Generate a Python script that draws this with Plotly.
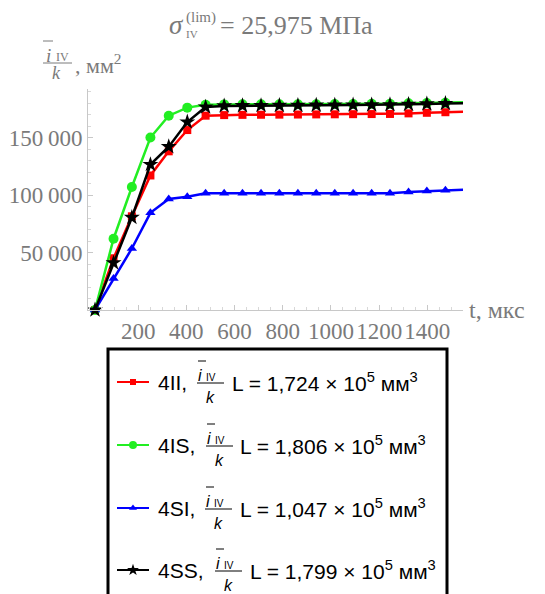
import plotly.graph_objects as go

# ---------------- data ----------------
t_us = [21, 98, 174, 251, 327, 404, 480, 557, 633, 710, 786, 863, 939, 1016,
        1092, 1169, 1245, 1322, 1398, 1475, 1551]

s_4II = [0, 45000, 81500, 117000, 138000, 156500, 169000, 169500, 169700, 169800,
         169900, 170000, 170100, 170200, 170300, 170400, 170500, 171000, 171500,
         172000, 172400]
s_4IS = [0, 62000, 107000, 150000, 169000, 176000, 178500, 178800, 178900, 179000,
         179000, 179000, 179000, 179100, 179200, 179300, 179400, 179700, 180000,
         180300, 180600]
s_4SI = [0, 27500, 53500, 84500, 96500, 98500, 101500, 101500, 101500, 101500,
         101500, 101500, 101500, 101500, 101500, 101500, 101600, 102600, 103400,
         104100, 104700]
s_4SS = [0, 41000, 80500, 126500, 142000, 163500, 176500, 177500, 177700, 177800,
         177900, 178000, 178100, 178200, 178300, 178400, 178500, 178800, 179200,
         179600, 179900]

series_names = ["4II", "4IS", "4SI", "4SS"]
L_values = ["1,724", "1,806", "1,047", "1,799"]

x_tick_vals = [200, 400, 600, 800, 1000, 1200, 1400]
x_tick_text = ["200", "400", "600", "800", "1000", "1200", "1400"]
y_tick_vals = [50000, 100000, 150000]
y_tick_text = ["50\u2009000", "100\u2009000", "150\u2009000"]

# ---------------- style ----------------
W, H = 545, 594
colors = ["#ff0000", "#22ee22", "#0000ff", "#000000"]
symbols = ["square", "circle", "triangle-up", "star"]
msizes = [8, 10, 9, 12]
gray = "#7a7a7a"
serif = "Liberation Serif, Times New Roman, serif"
sans = "Liberation Sans, Arial, sans-serif"

fig = go.Figure()

all_series = [s_4II, s_4IS, s_4SI, s_4SS]
for name, ys, c, sym, ms in zip(series_names, all_series, colors, symbols, msizes):
    fig.add_trace(go.Scatter(
        x=t_us, y=ys, mode="lines+markers", name=name,
        line=dict(color=c, width=2.5),
        marker=dict(symbol=sym, size=ms, color=c, line=dict(width=0)),
        cliponaxis=False, showlegend=False, xaxis="x", yaxis="y"))

# legend samples drawn in a pixel-space overlay axis
leg_rows = [382, 445, 508, 570]
for i in range(4):
    fig.add_trace(go.Scatter(
        x=[117, 133, 149], y=[leg_rows[i]] * 3, mode="lines",
        line=dict(color=colors[i], width=2), showlegend=False,
        xaxis="x2", yaxis="y2", hoverinfo="skip"))
    fig.add_trace(go.Scatter(
        x=[133], y=[leg_rows[i]], mode="markers",
        marker=dict(symbol=symbols[i], size=[6, 8, 7, 9][i], color=colors[i]),
        showlegend=False, xaxis="x2", yaxis="y2", hoverinfo="skip"))

ax_left, ax_right, ax_bottom, ax_top = 88, 463, 310, 89

fig.update_layout(
    width=W, height=H,
    margin=dict(l=0, r=0, t=0, b=0),
    paper_bgcolor="white", plot_bgcolor="rgba(0,0,0,0)",
    xaxis=dict(domain=[ax_left / W, ax_right / W], range=[-8, 1548],
               showgrid=False, zeroline=False, showline=True,
               linecolor="#c8c8c8", linewidth=1,
               tickvals=x_tick_vals, ticktext=x_tick_text, tickangle=0,
               ticks="inside", ticklen=5, tickcolor="#c8c8c8",
               minor=dict(dtick=50, ticks="inside", ticklen=3, tickcolor="#d8d8d8"),
               tickfont=dict(family=serif, size=23, color=gray)),
    yaxis=dict(domain=[(H - ax_bottom) / H, (H - ax_top) / H], range=[0, 192200],
               showgrid=False, zeroline=False, showline=True,
               linecolor="#c8c8c8", linewidth=1,
               tickvals=y_tick_vals, ticktext=y_tick_text,
               ticks="inside", ticklen=5, tickcolor="#c8c8c8",
               minor=dict(dtick=10000, ticks="inside", ticklen=3, tickcolor="#d8d8d8"),
               tickfont=dict(family=serif, size=23, color=gray)),
    xaxis2=dict(domain=[0, 1], range=[0, W], visible=False, fixedrange=True,
                anchor="y2"),
    yaxis2=dict(domain=[0, 1], range=[H, 0], visible=False, fixedrange=True,
                anchor="x2"),
)

ann = []
shapes = []

def A(x, y, text, size, color="black", family=serif, xanchor="left", yanchor="middle"):
    ann.append(dict(x=x, y=y, xref="x2", yref="y2", text=text, showarrow=False,
                    xanchor=xanchor, yanchor=yanchor, borderpad=0,
                    font=dict(family=family, size=size, color=color)))

def Lseg(x0, y0, x1, y1, color="black", width=1):
    shapes.append(dict(type="line", xref="x2", yref="y2", x0=x0, y0=y0, x1=x1, y1=y1,
                       line=dict(color=color, width=width)))

# title
A(168, 25, "<i>σ</i>", 27, gray)
A(185, 17, "(lim)", 15, gray)
A(185, 34, "IV", 11, gray)
A(219, 25, "= 25,975 МПа", 26, gray)

# y-axis label (fraction)
A(45, 55, "<i>i</i>", 19, gray)
A(55, 57, "IV", 12, gray)
Lseg(43, 41, 53, 41, gray, 1)
Lseg(43, 63, 72, 63, gray, 1)
A(56, 73, "<i>k</i>", 18, gray, xanchor="center")
A(74, 64, ", мм<sup>2</sup>", 22, gray)

# x-axis label
A(468, 310, "t, мкс", 24, gray)

# legend box
shapes.append(dict(type="rect", xref="x2", yref="y2", x0=108, y0=349, x1=447, y1=640,
                   line=dict(color="black", width=3), fillcolor="rgba(0,0,0,0)"))

frac_x = [197, 206, 205, 215]
L_x = [231, 239, 239, 249]
for i in range(4):
    y0 = leg_rows[i]
    A(157, y0, series_names[i] + ",", 21, "black", sans)
    fx = frac_x[i]
    A(fx, y0 - 7, "<i>i</i>", 16, "black", sans)
    A(fx + 8, y0 - 5, "IV", 10, "black", sans)
    Lseg(fx + 1, y0 - 21, fx + 9, y0 - 21, "black", 1)
    Lseg(fx, y0 + 1, fx + 27, y0 + 1, "black", 1)
    A(fx + 13, y0 + 15, "<i>k</i>", 16, "black", sans, xanchor="center")
    A(L_x[i], y0, "L = " + L_values[i] + " × 10<sup>5</sup> мм<sup>3</sup>", 21, "black", sans)

fig.update_layout(annotations=ann, shapes=shapes)
fig.write_html("out.html")
